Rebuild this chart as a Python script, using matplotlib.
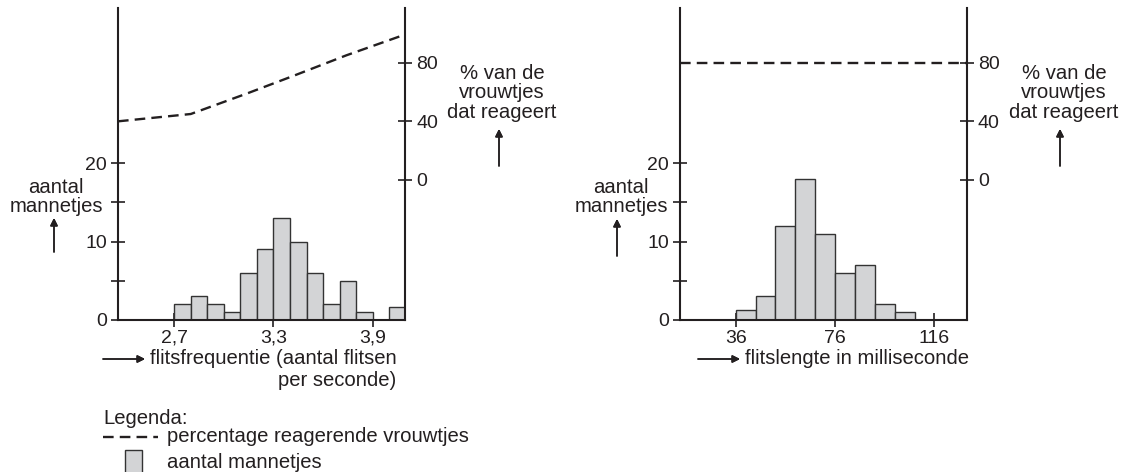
import matplotlib.pyplot as plt
from matplotlib.lines import Line2D
from matplotlib.patches import Rectangle

plt.rcParams['font.family'] = ['Liberation Sans', 'DejaVu Sans']

W, H = 1127, 472
ink = '#231f20'
bar_face = '#d3d4d6'

# data: flitsfrequentie
freq_edges = [2.7, 2.8, 2.9, 3.0, 3.1, 3.2, 3.3, 3.4, 3.5, 3.6, 3.7, 3.8, 3.9, 4.0]
freq_counts = [2, 3, 2, 1, 6, 9, 13, 10, 6, 2, 5, 1, 0, 1.6]
freq_pct_x = [2.36, 2.8, 3.14, 3.42, 3.74, 4.09]
freq_pct_y = [40, 45, 59, 71, 85, 99]
freq_ticks = [2.7, 3.3, 3.9]
freq_ticklabels = ['2,7', '3,3', '3,9']

# data: flitslengte
len_edges = [36, 44, 52, 60, 68, 76, 84, 92, 100]
len_counts = [1.3, 3, 12, 18, 11, 6, 7, 2, 1]
len_pct_x = [13.6, 129]
len_pct_y = [80, 80]
len_ticks = [36, 76, 116]
len_ticklabels = ['36', '76', '116']

count_ticks = [0, 10, 20]
pct_ticks = [0, 40, 80]

fig = plt.figure(figsize=(W / 100, H / 100), dpi=100)


def fx(x):
    return x / W


def fy(y):
    return 1 - y / H


def panel(left, right, edges, counts, width, xlim, ticks, ticklabels, px, py):
    ax = fig.add_axes([fx(left), fy(320), fx(right - left), (320 - 8) / H])
    ax.bar(edges, counts, width=width, align='edge', color=bar_face,
           edgecolor='#333333', linewidth=1.0, clip_on=True, zorder=2)
    ax.set_xlim(*xlim)
    ax.set_ylim(0, 39.8)
    ax.set_xticks(ticks)
    ax.set_xticklabels(ticklabels)
    ax.set_yticks(count_ticks)
    ax.set_yticks([5, 15], minor=True)
    ax.spines['top'].set_visible(False)
    ax.spines['right'].set_visible(False)
    for s in ['left', 'bottom']:
        ax.spines[s].set_linewidth(1.5)
        ax.spines[s].set_color(ink)
    ax.tick_params(which='both', direction='inout', length=10, width=1.2,
                   colors=ink, labelsize=14, pad=2)
    ax.tick_params(axis='y', pad=3)

    ax2 = ax.twinx()
    ax2.plot(px, py, color=ink, linestyle=(0, (4.5, 2.6)), linewidth=1.7,
             clip_on=False)
    ax2.set_ylim(-95.5, 117.3)
    ax2.set_yticks(pct_ticks)
    for s in ['top', 'left', 'bottom']:
        ax2.spines[s].set_visible(False)
    ax2.spines['right'].set_linewidth(1.5)
    ax2.spines['right'].set_color(ink)
    ax2.tick_params(direction='inout', length=10, width=1.2, colors=ink,
                    labelsize=14, pad=3)
    return ax


panel(118, 405, freq_edges, freq_counts, 0.1, (2.36, 4.095),
      freq_ticks, freq_ticklabels, freq_pct_x, freq_pct_y)
panel(680, 966.7, len_edges, len_counts, 8, (13.6, 129),
      len_ticks, len_ticklabels, len_pct_x, len_pct_y)

arrow_kw = dict(arrowstyle='-|>', lw=1.1, color=ink, mutation_scale=11,
                shrinkA=0, shrinkB=0)


def arrow(x0, y0, x1, y1):
    fig.add_artist(plt.annotate('', xy=(fx(x1), fy(y1)), xytext=(fx(x0), fy(y0)),
                                xycoords='figure fraction', arrowprops=arrow_kw))


fs = 14.6
ls = 1.03
# count labels
fig.text(fx(56), fy(197), 'aantal\nmannetjes', ha='center', va='center',
         fontsize=fs, color=ink, linespacing=ls)
arrow(54, 252, 54, 218)
fig.text(fx(621), fy(197), 'aantal\nmannetjes', ha='center', va='center',
         fontsize=fs, color=ink, linespacing=ls)
arrow(617, 256, 617, 219)

# percent labels
for cx, ax_x in [(502, 499), (1064, 1060)]:
    fig.text(fx(cx), fy(93), '% van de\nvrouwtjes\ndat reageert', ha='center',
             va='center', fontsize=fs, color=ink, linespacing=ls)
    arrow(ax_x, 166, ax_x, 129)

# x labels
arrow(103, 359, 145, 359)
fig.text(fx(150), fy(370), 'flitsfrequentie (aantal flitsen\nper seconde)',
         ha='left', va='center', multialignment='right', fontsize=fs,
         color=ink, linespacing=1.2)
arrow(698, 359, 740, 359)
fig.text(fx(745), fy(358), 'flitslengte in milliseconde', ha='left',
         va='center', fontsize=fs, color=ink)

# legend
fig.text(fx(103), fy(418), 'Legenda:', ha='left', va='center', fontsize=fs,
         color=ink)
fig.add_artist(Line2D([fx(103), fx(158)], [fy(437), fy(437)], color=ink,
                      linestyle=(0, (4.5, 2.6)), linewidth=1.7))
fig.text(fx(167), fy(437), 'percentage reagerende vrouwtjes', ha='left',
         va='center', fontsize=fs, color=ink)
fig.add_artist(Rectangle((fx(125), fy(478)), fx(17), (478 - 450) / H,
                         facecolor=bar_face, edgecolor='#333333', linewidth=1.0,
                         transform=fig.transFigure))
fig.text(fx(167), fy(462), 'aantal mannetjes', ha='left', va='center',
         fontsize=fs, color=ink)

fig.savefig('out.png', dpi=100, facecolor='white')
